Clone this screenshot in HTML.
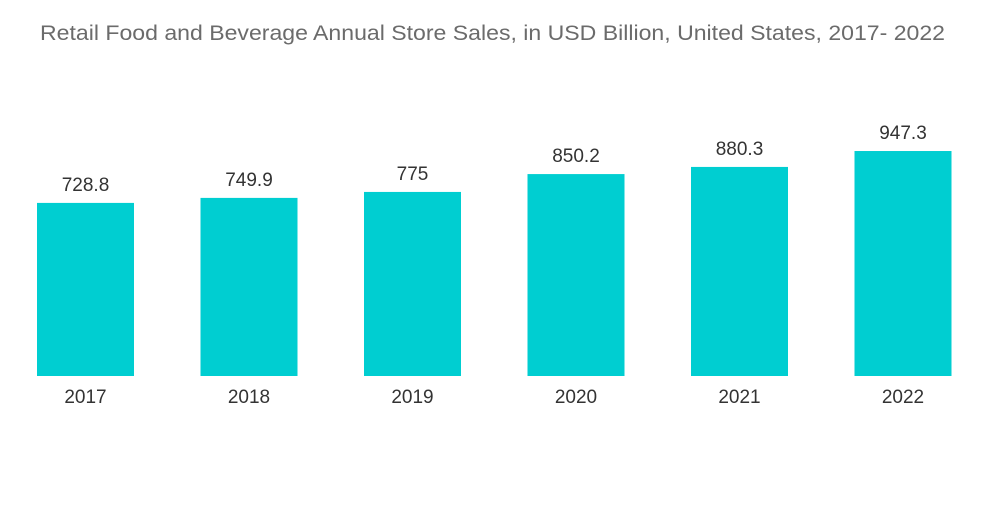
<!DOCTYPE html>
<html><head><meta charset="utf-8"><style>
body{margin:0;background:#fff;width:1000px;height:504px;overflow:hidden;font-family:"Liberation Sans",sans-serif}
</style></head><body>
<svg width="1000" height="504">
<text x="492.5" y="40" text-anchor="middle" font-size="21" textLength="905" lengthAdjust="spacingAndGlyphs" fill="#6b6b6b">Retail Food and Beverage Annual Store Sales, in USD Billion, United States, 2017- 2022</text>
<g id="bars"></g>
</svg>
<script>
const categories=["2017","2018","2019","2020","2021","2022"];
const values=[728.8,749.9,775,850.2,880.3,947.3];
const labels=["728.8","749.9","775","850.2","880.3","947.3"];
const base=376, scale=0.2375, x0=37, step=163.5, bw=97;
const g=document.getElementById('bars');
const ns="http://www.w3.org/2000/svg";
categories.forEach((c,i)=>{
  const h=values[i]*scale, x=x0+i*step;
  const r=document.createElementNS(ns,'rect');
  r.setAttribute('x',x);r.setAttribute('y',base-h);r.setAttribute('width',bw);r.setAttribute('height',h);r.setAttribute('fill','#00ced1');
  
  
  g.appendChild(r);
  const t=document.createElementNS(ns,'text');
  t.setAttribute('x',x+bw/2);t.setAttribute('y',base-h-12);t.setAttribute('text-anchor','middle');t.setAttribute('font-size','19');t.setAttribute('fill','#333');
  t.textContent=labels[i];
  
  
  g.appendChild(t);
  const a=document.createElementNS(ns,'text');
  a.setAttribute('x',x+bw/2);a.setAttribute('y',403);a.setAttribute('text-anchor','middle');a.setAttribute('font-size','19');a.setAttribute('fill','#333');
  a.textContent=c;
  
  
  g.appendChild(a);
});
</script>
</body></html>
